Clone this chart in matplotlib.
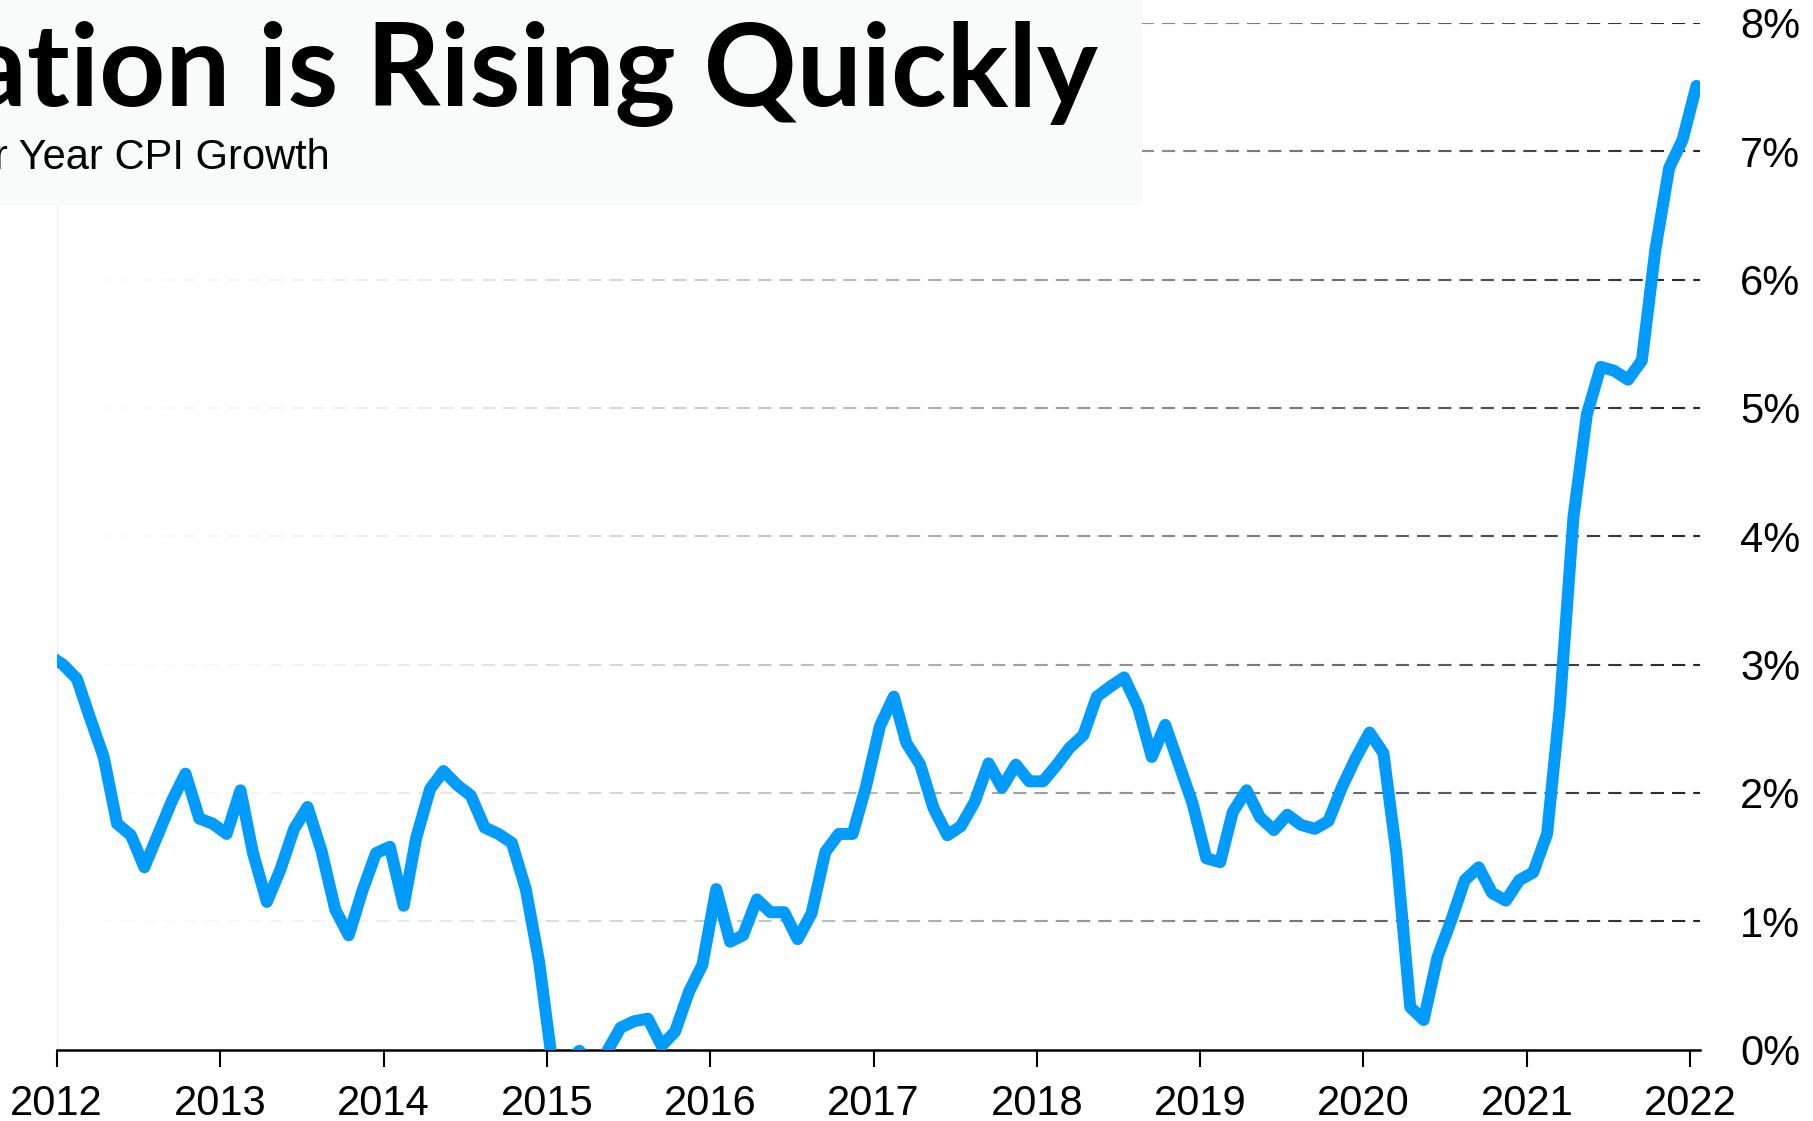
import matplotlib.pyplot as plt
from matplotlib.patches import Rectangle
import numpy as np
import pandas as pd

#####################################################
#   Data: year over year CPI growth (%), monthly    #
#   values, Dec 2011 .. Jan 2022                    #
#####################################################

cpi_2011 = [3.07]
cpi_2012 = [3.00, 2.89, 2.59, 2.28, 1.76, 1.67, 1.42, 1.68, 1.94, 2.15, 1.80, 1.76]
cpi_2013 = [1.68, 2.02, 1.53, 1.15, 1.40, 1.72, 1.89, 1.55, 1.09, 0.89, 1.24, 1.53]
cpi_2014 = [1.58, 1.12, 1.65, 2.03, 2.17, 2.06, 1.98, 1.73, 1.68, 1.61, 1.25, 0.68]
cpi_2015 = [-0.15, -0.10, -0.01, -0.15, -0.02, 0.17, 0.22, 0.24, 0.03, 0.14, 0.45, 0.66]
cpi_2016 = [1.25, 0.84, 0.89, 1.17, 1.07, 1.07, 0.86, 1.06, 1.54, 1.68, 1.68, 2.05]
cpi_2017 = [2.52, 2.75, 2.39, 2.22, 1.88, 1.67, 1.74, 1.93, 2.23, 2.04, 2.22, 2.09]
cpi_2018 = [2.09, 2.22, 2.35, 2.45, 2.75, 2.83, 2.90, 2.67, 2.28, 2.53, 2.22, 1.92]
cpi_2019 = [1.49, 1.46, 1.85, 2.02, 1.81, 1.71, 1.83, 1.75, 1.72, 1.78, 2.05, 2.27]
cpi_2020 = [2.47, 2.31, 1.53, 0.33, 0.23, 0.72, 1.00, 1.32, 1.42, 1.22, 1.16, 1.32]
cpi_2021 = [1.38, 1.68, 2.65, 4.15, 4.95, 5.32, 5.29, 5.22, 5.37, 6.23, 6.87, 7.09]
cpi_2022 = [7.51]

cpi = (cpi_2011 + cpi_2012 + cpi_2013 + cpi_2014 + cpi_2015 + cpi_2016
       + cpi_2017 + cpi_2018 + cpi_2019 + cpi_2020 + cpi_2021 + cpi_2022)

# one value per month, plotted in the middle of the month
months = pd.date_range('2011-12-01', periods=len(cpi), freq='MS') + pd.Timedelta(days=14)

years = list(range(2012, 2023))
year_labels = [str(y) for y in years]
pct_ticks = [0, 1, 2, 3, 4, 5, 6, 7, 8]
pct_labels = [str(p) + '%' for p in pct_ticks]

title_text = 'Inflation is Rising Quickly'
subtitle_text = 'Year over Year CPI Growth'

#####################################################
#   Plot                                            #
#####################################################

plt.rcParams['font.family'] = ['Liberation Sans', 'DejaVu Sans']
plt.rcParams['lines.scale_dashes'] = False

W, H = 1813, 1121
fig = plt.figure(figsize=(W / 100, H / 100), dpi=100)
ax = fig.add_axes([56.7 / W, (H - 1049.5) / H, (1700 - 56.7) / W, (1049.5 - 23) / H])

# dashed grid, faded towards the left by a white gradient on top of it
for p in pct_ticks[1:]:
    ax.axhline(p, color='#262626', lw=1.5, dashes=(9.5, 5.8), zorder=1)

fade = np.ones((2, 512, 4))
fade[..., 3] = 1 - np.linspace(0, 1, 512) ** 1.6
ax.imshow(fade, extent=(0, 1, 0, 1), transform=ax.transAxes, aspect='auto',
          interpolation='bilinear', zorder=1.5)

ax.plot(months, cpi, color='#009bff', lw=8.6, solid_joinstyle='round',
        solid_capstyle='round', zorder=3)

ax.set_xlim(pd.Timestamp('2012-01-01'), pd.Timestamp('2022-01-23'))
ax.set_ylim(0, 8)

ax.set_xticks([pd.Timestamp(str(y) + '-01-01') for y in years])
ax.set_xticklabels(year_labels)
ax.tick_params(axis='x', length=12, width=1.5, pad=13, labelsize=30)

ax.yaxis.tick_right()
ax.set_yticks(pct_ticks)
ax.set_yticklabels(pct_labels)
ax.tick_params(axis='y', length=0, pad=29, labelsize=30)

ax.spines['top'].set_visible(False)
ax.spines['right'].set_visible(False)
ax.spines['left'].set_color('#f2f2f2')
ax.spines['left'].set_linewidth(1)
ax.spines['bottom'].set_linewidth(1.8)

# title box, cut at the left edge of the picture
fig.add_artist(Rectangle((0, 1 - 205 / H), 1142 / W, 205 / H, transform=fig.transFigure,
                         facecolor='#f9fbfb', edgecolor='none', zorder=5))
fig.text(1098 / W, 1 - 106 / H, title_text, ha='right', va='baseline', fontsize=83,
         fontweight='bold', family='Lato', zorder=6)
fig.text(330 / W, 1 - 169 / H, subtitle_text, ha='right', va='baseline', fontsize=30,
         zorder=6)

fig.savefig('out.png', dpi=100)
